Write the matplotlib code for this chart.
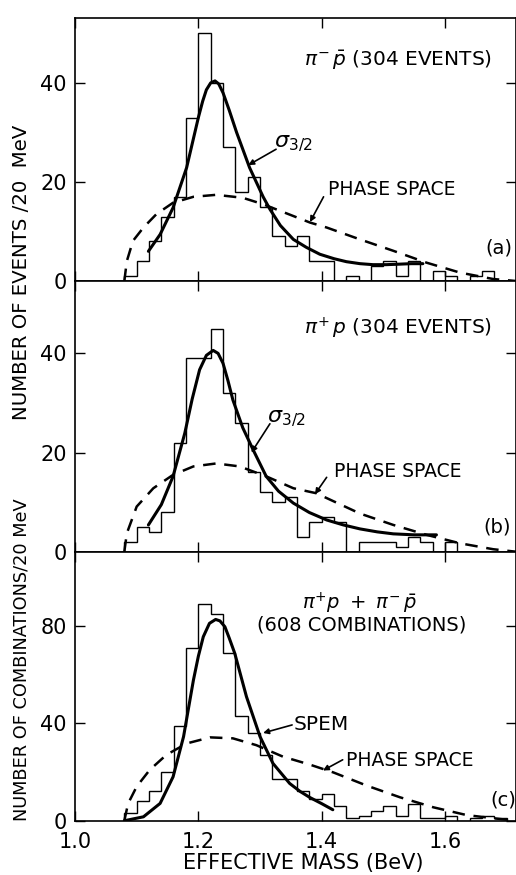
import matplotlib.pyplot as plt

plt.rcParams['font.family'] = ['DejaVu Sans']
plt.rcParams['mathtext.fontset'] = 'dejavusans'

# 20 MeV bins, lower edges from 1.08 BeV
bin_edges = [1.08, 1.10, 1.12, 1.14, 1.16, 1.18, 1.20, 1.22, 1.24, 1.26, 1.28,
             1.30, 1.32, 1.34, 1.36, 1.38, 1.40, 1.42, 1.44, 1.46, 1.48, 1.50,
             1.52, 1.54, 1.56, 1.58, 1.60, 1.62, 1.64, 1.66, 1.68, 1.70]

# counts
counts_a = [1, 4, 8, 13, 17, 33, 50, 40, 27, 18, 21, 15, 9, 7, 9, 4,
            4, 0, 1, 0, 3, 4, 1, 4, 0, 2, 1, 0, 1, 2, 0]
counts_b = [2, 5, 4, 8, 22, 39, 39, 45, 32, 26, 16, 12, 10, 11, 3, 6,
            7, 6, 0, 2, 2, 2, 1, 3, 2, 0, 2, 0, 0, 0, 0]
counts_c = [3, 8, 12, 20, 39, 71, 89, 85, 69, 43, 36, 27, 17, 17, 12, 9,
            11, 6, 1, 2, 4, 6, 2, 7, 1, 1, 2, 0, 1, 2, 1]

# fitted curves (sigma 3/2 / SPEM)
fit_a_m = [1.119, 1.138, 1.159, 1.181, 1.200, 1.207, 1.213, 1.220, 1.227, 1.233,
           1.240, 1.250, 1.262, 1.283, 1.305, 1.316, 1.333, 1.354, 1.375, 1.397,
           1.420, 1.440, 1.462, 1.483, 1.505, 1.526, 1.545, 1.564]
fit_a_n = [6.0, 9.4, 14.8, 22.9, 33.0, 36.3, 38.6, 40.0, 40.4, 39.8,
           38.0, 34.5, 30.0, 22.9, 17.0, 14.5, 11.2, 8.4, 6.8, 5.4,
           4.5, 3.9, 3.5, 3.3, 3.3, 3.4, 3.5, 3.5]

fit_b_m = [1.119, 1.140, 1.159, 1.178, 1.190, 1.202, 1.213, 1.224, 1.232, 1.240,
           1.248, 1.256, 1.272, 1.289, 1.310, 1.330, 1.354, 1.380, 1.408, 1.435,
           1.462, 1.490, 1.516, 1.550, 1.586]
fit_b_n = [5.4, 9.5, 15.2, 23.9, 30.8, 36.7, 39.6, 40.6, 40.0, 38.0,
           34.5, 30.6, 25.0, 20.5, 15.2, 12.2, 9.8, 7.9, 6.4, 5.4,
           4.6, 4.0, 3.6, 3.4, 3.4]

fit_c_m = [1.080, 1.086, 1.111, 1.138, 1.159, 1.176, 1.192, 1.200, 1.208, 1.218,
           1.228, 1.235, 1.243, 1.250, 1.259, 1.278, 1.300, 1.321, 1.348, 1.365,
           1.381, 1.400, 1.418]
fit_c_n = [0.0, 0.3, 1.6, 7.1, 18.0, 34.5, 57.7, 67.5, 75.5, 81.0,
           82.6, 82.0, 79.6, 75.0, 68.7, 50.9, 34.5, 23.5, 15.3, 12.0,
           9.5, 7.0, 4.5]

# phase space curves
ps_a_m = [1.080, 1.084, 1.094, 1.111, 1.132, 1.159, 1.192, 1.229, 1.272, 1.305,
          1.340, 1.381, 1.408, 1.462, 1.516, 1.570, 1.624, 1.678, 1.715]
ps_a_n = [0.0, 4.0, 8.1, 10.8, 13.5, 15.8, 17.0, 17.4, 16.8, 15.5,
          13.8, 11.8, 10.8, 8.4, 6.1, 3.7, 1.7, 0.4, 0.0]

ps_b_m = [1.080, 1.084, 1.100, 1.127, 1.159, 1.192, 1.229, 1.267, 1.310, 1.354,
          1.391, 1.462, 1.516, 1.570, 1.624, 1.678, 1.715]
ps_b_n = [0.0, 3.7, 9.1, 12.8, 15.5, 17.2, 17.8, 17.2, 15.2, 12.8,
          11.8, 7.7, 5.4, 3.4, 1.7, 0.5, 0.0]

ps_c_m = [1.080, 1.086, 1.100, 1.121, 1.148, 1.181, 1.219, 1.256, 1.294, 1.337,
          1.381, 1.419, 1.473, 1.527, 1.581, 1.635, 1.689, 1.715]
ps_c_n = [0.0, 7.0, 14.0, 20.8, 27.0, 31.7, 34.2, 33.8, 31.0, 26.3,
          23.0, 19.8, 14.4, 9.6, 5.5, 2.3, 0.7, 0.0]

x_ticks = [1.0, 1.2, 1.4, 1.6]
x_ticklabels = ['1.0', '1.2', '1.4', '1.6']


def draw_panel(ax, counts, fit_m, fit_n, ps_m, ps_n, ymax, yticks):
    ax.stairs(counts, bin_edges, color='black', lw=1.0, baseline=0)
    ax.plot(fit_m, fit_n, color='black', lw=2.2, solid_capstyle='round',
            solid_joinstyle='round')
    ax.plot(ps_m, ps_n, color='black', lw=1.8, dashes=(5, 3.5))
    ax.set_xlim(1.0, 1.715)
    ax.set_ylim(0, ymax)
    ax.set_xticks(x_ticks)
    ax.set_yticks(yticks)
    ax.tick_params(direction='in', top=True, right=True, length=7, width=1,
                   labelsize=15)
    ax.tick_params(axis='y', pad=6)
    ax.tick_params(axis='x', pad=8)
    for s in ax.spines.values():
        s.set_linewidth(1.2)


def arrow(ax, start, end):
    ax.annotate('', xy=end, xytext=start,
                arrowprops=dict(arrowstyle='-|>', color='black', lw=1.2,
                                mutation_scale=8, shrinkA=0, shrinkB=0))


fig = plt.figure(figsize=(5.16, 8.75), dpi=100)
left = 75 / 516
width = 1 - left
ax_a = fig.add_axes([left, 1 - 281 / 875, width, 263 / 875])
ax_b = fig.add_axes([left, 1 - 551.7 / 875, width, 270.7 / 875])
ax_c = fig.add_axes([left, 1 - 820.7 / 875, width, 269 / 875])

draw_panel(ax_a, counts_a, fit_a_m, fit_a_n, ps_a_m, ps_a_n, 53.1, [0, 20, 40])
draw_panel(ax_b, counts_b, fit_b_m, fit_b_n, ps_b_m, ps_b_n, 54.6, [0, 20, 40])
draw_panel(ax_c, counts_c, fit_c_m, fit_c_n, ps_c_m, ps_c_n, 110.4, [0, 40, 80])
ax_a.set_xticklabels([])
ax_b.set_xticklabels([])
ax_c.set_xticklabels(x_ticklabels)

fs = 14
# panel (a)
ax_a.text(1.523, 44.6, r'$\pi^{-}\,\bar{p}$ (304 EVENTS)', fontsize=14.5, ha='center', va='center')
ax_a.text(1.322, 27.6, r'$\sigma_{3/2}$', fontsize=16, ha='left', va='center')
arrow(ax_a, (1.326, 26.6), (1.281, 23.4))
ax_a.text(1.513, 18.5, 'PHASE SPACE', fontsize=13.5, ha='center', va='center')
arrow(ax_a, (1.403, 17.0), (1.381, 11.9))
ax_a.text(1.688, 6.7, '(a)', fontsize=fs, ha='center', va='center')

# panel (b)
ax_b.text(1.523, 45.1, r'$\pi^{+}\,p$ (304 EVENTS)', fontsize=14.5, ha='center', va='center')
ax_b.text(1.312, 26.8, r'$\sigma_{3/2}$', fontsize=16, ha='left', va='center')
arrow(ax_b, (1.316, 25.8), (1.286, 20.0))
ax_b.text(1.523, 16.2, 'PHASE SPACE', fontsize=13.5, ha='center', va='center')
arrow(ax_b, (1.408, 15.0), (1.389, 11.6))
ax_b.text(1.685, 4.9, '(b)', fontsize=fs, ha='center', va='center')

# panel (c)
ax_c.text(1.4615, 89.3, r'$\pi^{+}p\ +\ \pi^{-}\,\bar{p}$', fontsize=14, ha='center', va='center')
ax_c.text(1.465, 80.3, '(608 COMBINATIONS)', fontsize=14, ha='center', va='center')
ax_c.text(1.355, 39.5, 'SPEM', fontsize=14.5, ha='left', va='center')
arrow(ax_c, (1.352, 39.3), (1.305, 36.0))
ax_c.text(1.5425, 24.7, 'PHASE SPACE', fontsize=13.5, ha='center', va='center')
arrow(ax_c, (1.434, 25.0), (1.402, 20.6))
ax_c.text(1.695, 8.7, '(c)', fontsize=fs, ha='center', va='center')

fig.text(22 / 516, 1 - 272 / 875, 'NUMBER OF EVENTS /20  MeV', rotation=90,
         ha='center', va='center', fontsize=14.2)
fig.text(22 / 516, 1 - 660 / 875, 'NUMBER OF COMBINATIONS/20 MeV', rotation=90,
         ha='center', va='center', fontsize=12.8)
fig.text(303 / 516, 1 - 863 / 875, 'EFFECTIVE MASS (BeV)', ha='center',
         va='center', fontsize=15)

fig.savefig('out.png', dpi=100)
